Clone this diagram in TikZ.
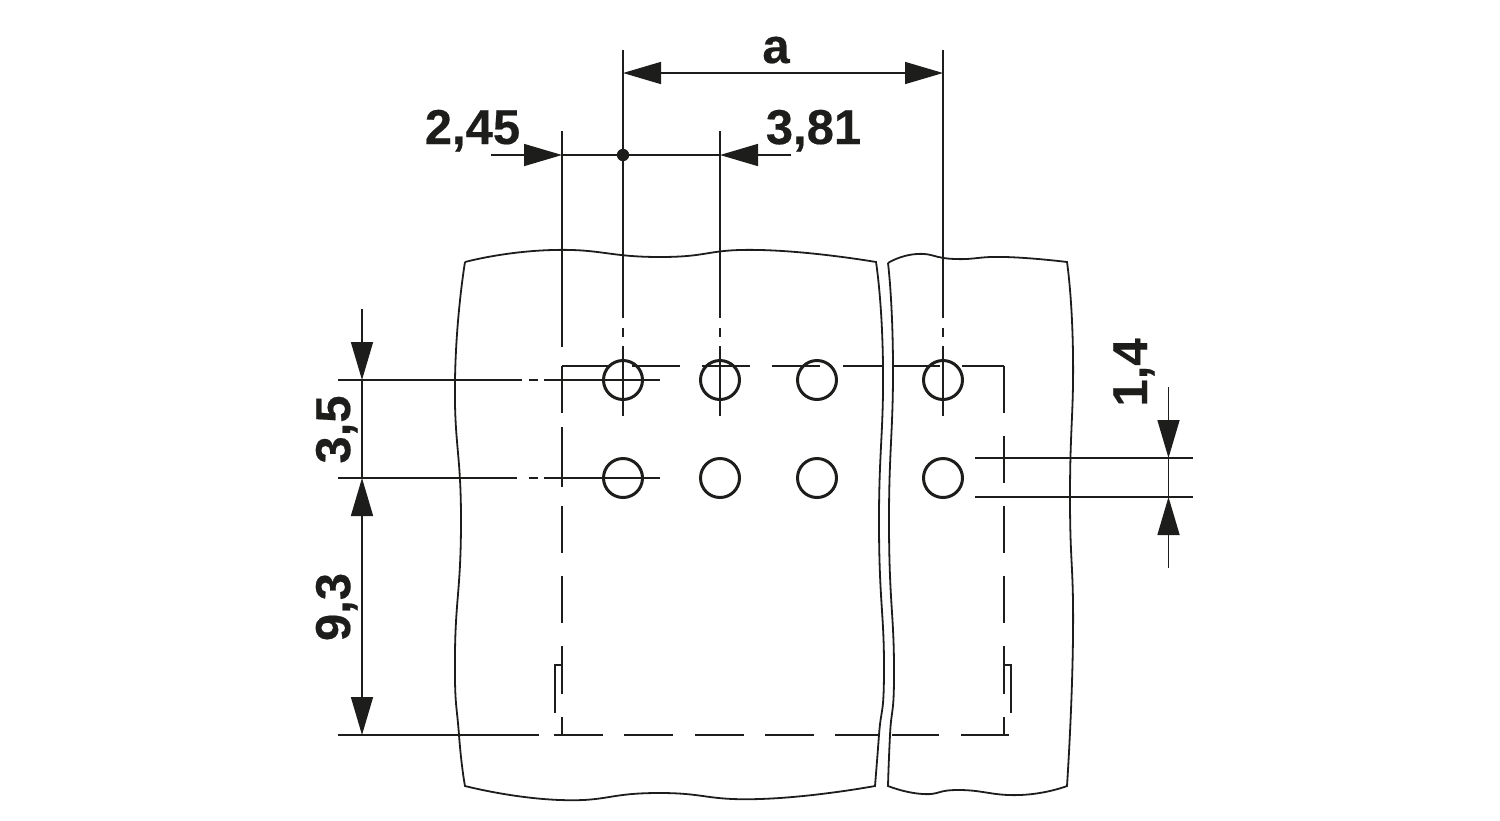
\documentclass[tikz,border=0pt]{standalone}
\usepackage{fontspec}
\setmainfont[BoldFeatures = {FakeBold = 0.4}]{Liberation Sans}
\usetikzlibrary{arrows.meta}
\definecolor{inkblack}{HTML}{1D1D1B}
\tikzset{
	thinline/.style = {draw = inkblack, line width = 1.6pt},
	dashline/.style = {draw = inkblack, line width = 2.6pt},
	hole/.style = {draw = inkblack, line width = 3pt},
	edgeline/.style = {draw = inkblack, line width = 1.8pt, line join = miter},
	edgecurve/.style = {smooth, tension = .9},
	dimtip/.style = {-{Triangle[length = 38pt, width = 22pt]}, thinline},
	dimlabel/.style = {font = \fontsize{49}{49}\selectfont\bfseries, text = inkblack, inner sep = 0pt, anchor = base}
}
\begin{document}
\begin{tikzpicture}[x = 1pt, y = -1pt]
	\useasboundingbox (0,0) rectangle (1500,820);
	% panels
	\draw[edgeline] plot[edgecurve] coordinates {(465,262) (553,250) (660,257) (760,250) (876,262)}
		-- plot[edgecurve] coordinates {(876,262) (883,366) (879,526) (884,666) (879,735) (875,786)}
		-- plot[edgecurve] coordinates {(875,786) (760,799) (657,793) (560,800) (465,786)}
		-- plot[edgecurve] coordinates {(465,786) (459,735) (455,653) (461,520) (455,380) (465,262)};
	\draw[edgeline] plot[edgecurve] coordinates {(888,263) (917,254) (955,259) (1005,257) (1067,262)}
		-- plot[edgecurve] coordinates {(1067,262) (1073,355) (1070,497) (1073,636) (1067,786)}
		-- plot[edgecurve] coordinates {(1067,786) (1020,795) (960,790) (923,794) (888,786)}
		-- plot[edgecurve] coordinates {(888,786) (890,735) (894,666) (889,526) (893,366) (888,263)};
	% holes
	\foreach \x in {623,720,817,943} {
		\draw[hole] (\x,380) circle[radius = 19.5];
		\draw[hole] (\x,478) circle[radius = 19.5];
	}
	% dashed outline
	\foreach \a/\b in {562/608,632/680,702/750,772/820,843/884,892/940,962/1004}
		\draw[dashline] (\a,366) -- (\b,366);
	\foreach \a/\b in {554/603,624/673,695/744,765/814,835/879,892/939,961/1009}
		\draw[dashline] (\a,735) -- (\b,735);
	\foreach \a/\b in {366/413,427/487,506/553,576/623,646/694,717/735}
		\draw[dashline] (562,\a) -- (562,\b);
	\foreach \a/\b in {366/413,436/483,506/553,576/623,646/694,717/735}
		\draw[dashline] (1004,\a) -- (1004,\b);
	\draw[dashline] (555,713) -- (555,665) -- (562,665);
	\draw[dashline] (1011,713) -- (1011,665) -- (1004,665);
	% extension lines
	\draw[thinline] (562,131) -- (562,347);
	\foreach \x/\ytop in {623/50,720/131,943/50} {
		\draw[thinline] (\x,\ytop) -- (\x,318);
		\draw[thinline] (\x,328) -- (\x,337);
		\draw[thinline] (\x,346) -- (\x,416);
	}
	\draw[thinline] (338,380) -- (522,380);
	\draw[thinline] (338,478) -- (517,478);
	\draw[thinline] (338,735) -- (539,735);
	\foreach \y in {380,478} {
		\draw[thinline] (529,\y) -- (538,\y);
		\draw[thinline] (544,\y) -- (660,\y);
	}
	\draw[thinline] (975,458) -- (1193,458);
	\draw[thinline] (975,497) -- (1193,497);
	% dimension a
	\draw[dimtip, {Triangle[length = 38pt, width = 22pt]}-{Triangle[length = 38pt, width = 22pt]}] (623,73) -- (943,73);
	\node[dimlabel] (lbla) at (776,63) {a};
	% dimensions 2,45 and 3,81
	\draw[dimtip] (491,155) -- (562,155);
	\draw[dimtip] (791,155) -- (720,155);
	\draw[thinline] (562,155) -- (720,155);
	\fill[inkblack] (623,155) circle[radius = 6.2];
	\node[dimlabel] (lblleft) at (472.5,144) {2,45};
	\node[dimlabel] (lblright) at (813.5,144) {3,81};
	% dimensions 3,5 and 9,3
	\draw[dimtip] (362,309) -- (362,380);
	\draw[thinline] (362,380) -- (362,478);
	\draw[dimtip, {Triangle[length = 38pt, width = 22pt]}-{Triangle[length = 38pt, width = 22pt]}] (362,478) -- (362,735);
	\node[dimlabel, rotate = 90] (lblrow) at (350,429.5) {3,5};
	\node[dimlabel, rotate = 90] (lblbottom) at (350,607) {9,3};
	% dimension 1,4
	\draw[dimtip] (1168.5,387) -- (1168.5,458);
	\draw[thinline] (1168.5,458) -- (1168.5,497);
	\draw[dimtip] (1168.5,568) -- (1168.5,497);
	\node[dimlabel, rotate = 90] (lblhole) at (1147,372.5) {1,4};
\end{tikzpicture}
\end{document}
